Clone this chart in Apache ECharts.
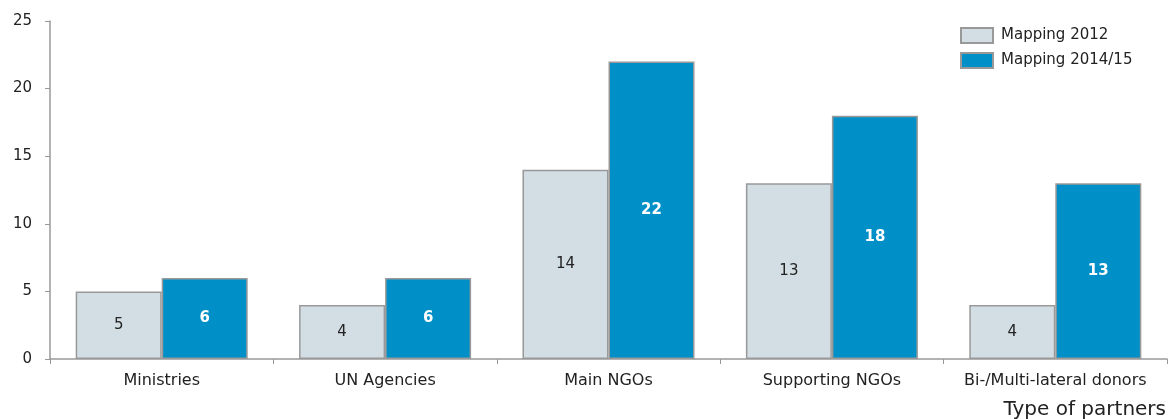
<!DOCTYPE html>
<html>
<head>
<meta charset="utf-8">
<script src="https://cdn.jsdelivr.net/npm/echarts@6/dist/echarts.min.js"></script>
<style>
  html, body { margin: 0; padding: 0; background: #fff; }
  #chart { width: 1168px; height: 419px; }
</style>
</head>
<body>
<div id="chart"></div>
<script>
// 数据
var categories = ['Ministries', 'UN Agencies', 'Main NGOs', 'Supporting NGOs', 'Bi-/Multi-lateral donors'];
var mapping2012 = [5, 4, 14, 13, 4];
var mapping2014 = [6, 6, 22, 18, 13];
var yTicks = [0, 5, 10, 15, 20, 25];

var chart = echarts.init(document.getElementById('chart'));
var font = 'DejaVu Sans, Verdana, sans-serif';

var option = {
  animation: false,
  textStyle: { fontFamily: font },
  title: {
    text: 'Type of partners',
    right: 2,
    bottom: -1,
    padding: 0,
    textStyle: { fontSize: 20, fontWeight: 'normal', color: '#222', fontFamily: font }
  },
  legend: {
    data: ['Mapping 2012', 'Mapping 2014/15'],
    orient: 'vertical',
    left: 960,
    top: 27,
    padding: 0,
    itemWidth: 32,
    itemHeight: 15,
    itemGap: 8,
    icon: 'rect',
    textStyle: { fontSize: 15, lineHeight: 15, color: '#222', fontFamily: font, padding: [0, 0, 0, 3] }
  },
  grid: { left: 50, right: 1, top: 21, bottom: 60 },
  xAxis: {
    type: 'category',
    data: categories,
    axisLine: { lineStyle: { color: '#999', width: 1.5 } },
    axisTick: { show: true, interval: 0, length: 5, lineStyle: { color: '#999' } },
    axisLabel: { interval: 0, fontSize: 16, color: '#222', margin: 14, fontFamily: font }
  },
  yAxis: {
    type: 'value',
    min: yTicks[0],
    max: yTicks[yTicks.length - 1],
    interval: 5,
    splitLine: { show: false },
    axisLine: { show: true, lineStyle: { color: '#999', width: 1.5 } },
    axisTick: { show: true, length: 5, lineStyle: { color: '#999' } },
    axisLabel: { fontSize: 15, color: '#222', margin: 18, fontFamily: font }
  },
  series: [{
    name: 'Mapping 2012',
    type: 'bar',
    data: mapping2012,
    barGap: '0%',
    barCategoryGap: '23%',
    itemStyle: { color: '#D3DEE4', borderColor: '#999', borderWidth: 1.5 },
    label: { show: true, position: 'inside', color: '#222', fontSize: 15, fontFamily: font }
  }, {
    name: 'Mapping 2014/15',
    type: 'bar',
    data: mapping2014,
    barGap: '0%',
    barCategoryGap: '23%',
    itemStyle: { color: '#008FC6', borderColor: '#999', borderWidth: 1.5 },
    label: { show: true, position: 'inside', color: '#fff', fontSize: 15, fontWeight: 'bold', fontFamily: font }
  }]
};
chart.setOption(option);
</script>
</body>
</html>
